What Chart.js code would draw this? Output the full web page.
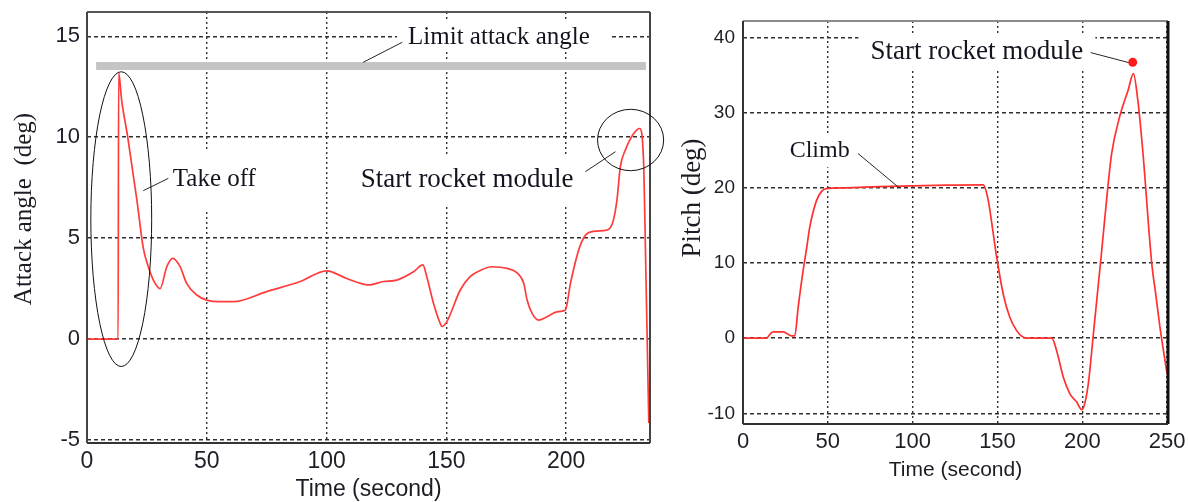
<!DOCTYPE html>
<html>
<head>
<meta charset="utf-8">
<script src="https://cdn.jsdelivr.net/npm/chart.js@4.4.0/dist/chart.umd.min.js"></script>
<style>
  html, body { margin: 0; padding: 0; background: #fff; }
  #wrap { position: relative; width: 1188px; height: 502px; overflow: hidden; }
  .pane { position: absolute; top: 0; height: 502px; }
  #left { left: 0; width: 666px; }
  #right { left: 666px; width: 522px; }
</style>
</head>
<body>
<div id="wrap">
  <div class="pane" id="left"><canvas id="attackChart"></canvas></div>
  <div class="pane" id="right"><canvas id="pitchChart"></canvas></div>
</div>
<script>
// attack angle vs time (left panel)
const attackTime = [0, 13, 13.2, 14.5, 17, 20.8, 23.5, 25.6, 27.7, 30.5, 33.3, 35.8, 38.8, 41.6, 45.8, 50, 55, 61, 75, 89,
  100, 108.4, 117.5, 123.8, 129.3, 136.3, 140.2, 141.8, 144.6, 147.4, 148.2, 150.2, 155.8, 160, 164.2, 169, 175.3, 179.5,
  182.3, 183.7, 185.8, 188.5, 192, 196.2, 199.7, 201.8, 205.6, 208.8, 213, 217.1, 219.5, 221.2, 222.6, 224.7, 228.2,
  230.7, 232.4, 233.1, 234.5];
const attackAngle = [0, 0, 13.2, 11.8, 10.0, 6.9, 4.5, 3.58, 2.92, 2.5, 3.58, 4.0, 3.6, 2.76, 2.18, 1.93, 1.85, 1.85, 2.35, 2.85,
  3.38, 3.0, 2.68, 2.85, 2.92, 3.33, 3.67, 3.1, 1.78, 0.78, 0.62, 0.86, 2.43, 3.1, 3.4, 3.58, 3.5, 3.28,
  2.76, 1.93, 1.27, 0.94, 1.1, 1.35, 1.44, 2.76, 4.54, 5.23, 5.35, 5.4, 5.8, 6.88, 8.53, 9.36, 10.18,
  10.43, 8.53, 4.4, -4.16];
const limitTime = [3.8, 233.3];
const limitAngle = [13.53, 13.53];
const attackTicksX = [0, 50, 100, 150, 200];
const attackTicksY = [-5, 0, 5, 10, 15];

// pitch vs time (right panel)
const pitchTime = [0, 13.8, 16, 17.7, 23.6, 28.5, 30.5, 32.5, 35.4, 37.4, 39.3, 43.3, 46.2, 49.1, 60, 80, 100, 120, 141.6, 144.5,
  147.5, 149.5, 153.4, 157.3, 161.3, 164, 167.2, 182, 184.9, 188.8, 192.7, 196.7, 199.6, 200.8, 203.5, 206.5, 211.4, 215, 217.3, 221.9,
  224, 227, 230.1, 232.7, 235.6, 240.9, 243.3, 245.8, 250];
const pitchAngle = [0, 0, 0.55, 0.84, 0.84, 0.31, 0.3, 4.07, 8.95, 11.8, 14.7, 18.3, 19.5, 19.9, 20.0, 20.15, 20.25, 20.35, 20.4, 18.4,
  13.9, 10.8, 5.85, 2.75, 1.0, 0.3, 0, 0, -1.7, -5.2, -7.4, -8.5, -9.5, -9.2, -6.1, 0.5, 11.6, 20, 24.6, 29.4,
  31, 33, 35.2, 31.7, 25, 10, 5.8, 1.4, -4.8];
const rocketTime = [229.7];
const rocketPitch = [36.7];
const pitchTicksX = [0, 50, 100, 150, 200, 250];
const pitchTicksY = [-10, 0, 10, 20, 30, 40];

const SERIF = '"Liberation Serif", "Times New Roman", serif';
const SANS = '"Liberation Sans", Arial, sans-serif';
Chart.defaults.font.family = SANS;

const pts = (xs, ys) => xs.map((x, i) => ({ x, y: ys[i] }));
const px = (chart, x, y) => ({ x: chart.scales.x.getPixelForValue(x), y: chart.scales.y.getPixelForValue(y) });

// white boxes, leader lines, ellipses and text notes
const notes = {
  id: 'notes',
  beforeDatasetsDraw(chart, args, o) {
    const ctx = chart.ctx;
    ctx.save();
    ctx.fillStyle = '#fff';
    o.labels.forEach(l => {
      ctx.font = l.font;
      const w = ctx.measureText(l.text).width;
      const p = px(chart, l.x, l.y);
      const left = l.align === 'right' ? p.x - w : p.x;
      ctx.fillRect(left - l.box[0], p.y - l.box[2] / 2 + l.box[3], w + l.box[0] + l.box[1], l.box[2]);
    });
    ctx.restore();
  },
  afterDatasetsDraw(chart, args, o) {
    const { ctx, chartArea: a } = chart;
    ctx.save();
    // frame
    const side = (x1, y1, x2, y2, c, w) => {
      ctx.beginPath(); ctx.moveTo(x1, y1); ctx.lineTo(x2, y2);
      ctx.strokeStyle = c; ctx.lineWidth = w; ctx.stroke();
    };
    const f = o.frame;
    side(a.left, a.top, a.right, a.top, f.top[0], f.top[1]);
    side(a.right, a.top, a.right, a.bottom, f.right[0], f.right[1]);
    side(a.left, a.bottom, a.right, a.bottom, f.bottom[0], f.bottom[1]);
    side(a.left, a.top, a.left, a.bottom, f.left[0], f.left[1]);

    ctx.strokeStyle = '#262626';
    ctx.lineWidth = 1;
    o.leaders.forEach(([x1, y1, x2, y2]) => {
      const p = px(chart, x1, y1), q = px(chart, x2, y2);
      ctx.beginPath(); ctx.moveTo(p.x, p.y); ctx.lineTo(q.x, q.y); ctx.stroke();
    });
    ctx.strokeStyle = '#111';
    o.ellipses.forEach(e => {
      const c = px(chart, e.x, e.y);
      const rx = Math.abs(px(chart, e.x + e.rx, e.y).x - c.x);
      const ry = Math.abs(px(chart, e.x, e.y + e.ry).y - c.y);
      ctx.beginPath(); ctx.ellipse(c.x, c.y, rx, ry, 0, 0, Math.PI * 2); ctx.stroke();
    });
    ctx.fillStyle = '#141420';
    ctx.textBaseline = 'middle';
    o.labels.forEach(l => {
      ctx.font = l.font;
      ctx.textAlign = l.align;
      const p = px(chart, l.x, l.y);
      ctx.fillText(l.text, p.x, p.y);
    });
    ctx.restore();
  }
};

// axis titles
const titles = {
  id: 'titles',
  afterDraw(chart, args, o) {
    const { ctx, chartArea: a } = chart;
    ctx.save();
    ctx.fillStyle = '#1c1c24';
    ctx.textAlign = 'center';
    ctx.textBaseline = 'middle';
    ctx.font = o.x.font;
    ctx.fillText(o.x.text, (a.left + a.right) / 2, a.bottom + o.x.gap);
    ctx.translate(a.left - o.y.gap, a.top + o.y.at);
    ctx.rotate(-Math.PI / 2);
    ctx.font = o.y.font;
    ctx.fillText(o.y.text, 0, 0);
    ctx.restore();
  }
};

function axes(xr, yr, xt, yt, fx, fy, w, h, padX, padY) {
  const grid = { color: '#303030', lineWidth: 1.4, drawTicks: false };
  return {
    x: {
      type: 'linear', min: xr[0], max: xr[1],
      afterBuildTicks: s => { s.ticks = xt.map(v => ({ value: v })); },
      afterFit: s => { s.height = h; s.paddingLeft = 0; s.paddingRight = 0; },
      grid, border: { display: false, dash: [2, 3] },
      ticks: { color: '#1e1e28', font: { size: fx }, padding: padX, maxRotation: 0 }
    },
    y: {
      type: 'linear', min: yr[0], max: yr[1],
      afterBuildTicks: s => { s.ticks = yt.map(v => ({ value: v })); },
      afterFit: s => { s.width = w; s.paddingTop = 0; s.paddingBottom = 0; },
      grid, border: { display: false, dash: [4, 3] },
      ticks: { color: '#1e1e28', font: { size: fy }, padding: padY }
    }
  };
}

new Chart(document.getElementById('attackChart'), {
  type: 'line',
  data: {
    datasets: [
      { data: pts(limitTime, limitAngle), borderColor: '#c4c4c4', borderWidth: 8, pointRadius: 0, borderCapStyle: 'butt' },
      { data: pts(attackTime, attackAngle), borderColor: '#ff3c3c', borderWidth: 1.7, pointRadius: 0, cubicInterpolationMode: 'monotone' }
    ]
  },
  options: {
    responsive: true, maintainAspectRatio: false, animation: false,
    layout: { padding: { top: 12, right: 16, left: 0, bottom: 0 } },
    scales: axes([0, 235], [-5.15, 16.2], attackTicksX, attackTicksY, 23, 22, 87, 59, 5, 7),
    plugins: {
      legend: { display: false }, tooltip: { enabled: false },
      notes: {
        frame: { top: ['#555', 2], right: ['#444', 2], bottom: ['#333', 2], left: ['#444', 2] },
        labels: [
          { text: 'Limit attack angle', x: 134, y: 14.95, align: 'left', font: '25px ' + SERIF, box: [11, 22, 30, -2] },
          { text: 'Take off', x: 35.8, y: 7.93, align: 'left', font: '25px ' + SERIF, box: [8, 8, 60, 0] },
          { text: 'Start rocket module', x: 203.1, y: 7.88, align: 'right', font: '27px ' + SERIF, box: [8, 8, 51, 0] }
        ],
        leaders: [[115.3, 13.71, 131.6, 14.70], [23.5, 7.35, 33.96, 7.96], [208, 8.29, 220.6, 9.28]],
        ellipses: [{ x: 14.3, y: 5.94, rx: 12.7, ry: 7.3 }, { x: 226.9, y: 9.86, rx: 13.8, ry: 1.52 }]
      },
      titles: {
        x: { text: 'Time (second)', font: '23px ' + SANS, gap: 47 },
        y: { text: 'Attack angle  (deg)', font: '25px ' + SERIF, gap: 63, at: 197 }
      }
    }
  },
  plugins: [notes, titles]
});

new Chart(document.getElementById('pitchChart'), {
  type: 'line',
  data: {
    datasets: [
      { data: pts(pitchTime, pitchAngle), borderColor: '#ff3030', borderWidth: 1.7, pointRadius: 0, cubicInterpolationMode: 'monotone' },
      { type: 'scatter', data: pts(rocketTime, rocketPitch), backgroundColor: '#ff1a1a', borderWidth: 0, pointRadius: 4.5 }
    ]
  },
  options: {
    responsive: true, maintainAspectRatio: false, animation: false,
    layout: { padding: { top: 21, right: 20, left: 0, bottom: 0 } },
    scales: axes([0, 250.5], [-11.42, 42.2], pitchTicksX, pitchTicksY, 22, 19, 77, 78, 5, 8),
    plugins: {
      legend: { display: false }, tooltip: { enabled: false },
      notes: {
        frame: { top: ['#8a8a8a', 2], right: ['#111', 3], bottom: ['#333', 2], left: ['#333', 2] },
        labels: [
          { text: 'Start rocket module', x: 200.6, y: 38.09, align: 'right', font: '27px ' + SERIF, box: [12, 12, 34, -1] },
          { text: 'Climb', x: 27.5, y: 25.0, align: 'left', font: '24px ' + SERIF, box: [6, 6, 34, 0] }
        ],
        leaders: [[204.9, 38.0, 227.1, 36.68], [67.8, 24.57, 91.4, 20.13]],
        ellipses: []
      },
      titles: {
        x: { text: 'Time (second)', font: '21px ' + SANS, gap: 46 },
        y: { text: 'Pitch (deg)', font: '27px ' + SERIF, gap: 50, at: 177 }
      }
    }
  },
  plugins: [notes, titles]
});
</script>
</body>
</html>
